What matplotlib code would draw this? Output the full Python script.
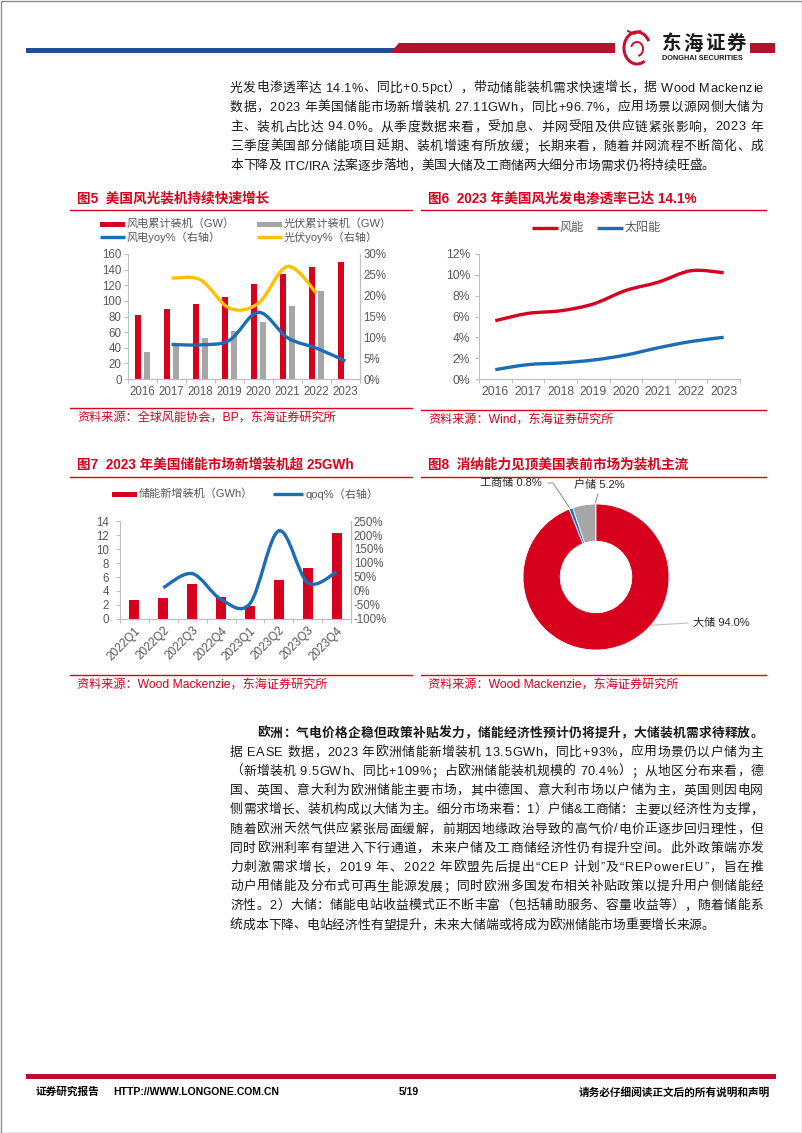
import numpy as np
import matplotlib
matplotlib.use("Agg")
import matplotlib.pyplot as plt
from matplotlib.path import Path
from matplotlib.patches import PathPatch, Rectangle, Polygon, Arc
from matplotlib.font_manager import FontProperties

FAMILY = ['Liberation Sans', 'Noto Sans CJK SC']
plt.rcParams['font.family'] = FAMILY
plt.rcParams['axes.unicode_minus'] = False

W, H = 802, 1133

# ---- data -------------------------------------------------------------
years = ['2016', '2017', '2018', '2019', '2020', '2021', '2022', '2023']
wind_cum = [82, 89, 96, 105, 122, 134, 144, 150]            # GW
solar_cum = [34, 43, 52, 61, 73, 93, 113, np.nan]           # GW
wind_yoy = [np.nan, 8.3, 8.2, 9.3, 16.0, 9.9, 7.4, 4.3]     # %
solar_yoy = [np.nan, 24.2, 23.8, 17.0, 18.2, 27.0, 20.6, np.nan]

wind_share = [5.6, 6.3, 6.55, 7.2, 8.5, 9.3, 10.4, 10.2]    # %
solar_share = [0.9, 1.38, 1.54, 1.82, 2.3, 3.0, 3.6, 4.0]

quarters = ['2022Q1', '2022Q2', '2022Q3', '2022Q4',
            '2023Q1', '2023Q2', '2023Q3', '2023Q4']
storage_add = [2.74, 3.07, 4.97, 3.12, 1.8, 5.6, 7.3, 12.3]  # GWh
storage_qoq = [np.nan, 12, 62, -30, -45, 215, 30, 68]        # %

seg_names = ['户储', '工商储', '大储']
seg_share = [5.2, 0.8, 94.0]

top_lines = [
    '光发电渗透率达 14.1%、同比+0.5pct），带动储能装机需求快速增长，据 Wood Mackenzie',
    '数据，2023 年美国储能市场新增装机 27.11GWh，同比+96.7%，应用场景以源网侧大储为',
    '主、装机占比达 94.0%。从季度数据来看，受加息、并网受阻及供应链紧张影响，2023 年',
    '三季度美国部分储能项目延期、装机增速有所放缓；长期来看，随着并网流程不断简化、成',
    '本下降及 ITC/IRA 法案逐步落地，美国大储及工商储两大细分市场需求仍将持续旺盛。',
]
eu_head = '欧洲：气电价格企稳但政策补贴发力，储能经济性预计仍将提升，大储装机需求待释放。'
eu_lines = [
    '据 EASE 数据，2023 年欧洲储能新增装机 13.5GWh，同比+93%，应用场景仍以户储为主',
    '（新增装机 9.5GWh、同比+109%；占欧洲储能装机规模的 70.4%）；从地区分布来看，德',
    '国、英国、意大利为欧洲储能主要市场，其中德国、意大利市场以户储为主，英国则因电网',
    '侧需求增长、装机构成以大储为主。细分市场来看：1）户储&工商储：主要以经济性为支撑，',
    '随着欧洲天然气供应紧张局面缓解，前期因地缘政治导致的高气价/电价正逐步回归理性，但',
    '同时欧洲利率有望进入下行通道，未来户储及工商储经济性仍有提升空间。此外政策端亦发',
    '力刺激需求增长，2019 年、2022 年欧盟先后提出“CEP 计划”及“REPowerEU”，旨在推',
    '动户用储能及分布式可再生能源发展；同时欧洲多国发布相关补贴政策以提升用户侧储能经',
    '济性。2）大储：储能电站收益模式正不断丰富（包括辅助服务、容量收益等），随着储能系',
    '统成本下降、电站经济性有望提升，未来大储端或将成为欧洲储能市场重要增长来源。',
]

RED = '#D7001D'
HEAD_RED = '#B3122C'
NAVY = '#1F4E96'
BLUE = '#1C6DB6'
YELLOW = '#FFC000'
GRAY = '#A6A6A6'
SPINE = '#BFBFBF'
TICK = '#595959'

fig = plt.figure(figsize=(W / 100, H / 100), dpi=100)
bg = fig.add_axes([0, 0, 1, 1])
bg.set_xlim(0, W)
bg.set_ylim(H, 0)
bg.axis('off')
renderer = fig.canvas.get_renderer()


def px_axes(x0, y0, x1, y1):
    ax = fig.add_axes([x0 / W, 1 - y1 / H, (x1 - x0) / W, (y1 - y0) / H])
    ax.set_facecolor('none')
    return ax


def smooth(ax, xs, ys, color, lw=2.4):
    # excel-like smoothed line through the data points
    p = np.array([(a, b) for a, b in zip(xs, ys) if not np.isnan(b)], float)
    verts, codes = [p[0]], [Path.MOVETO]
    n = len(p)
    for i in range(n - 1):
        p0 = p[i - 1] if i > 0 else p[i]
        p3 = p[i + 2] if i + 2 < n else p[i + 1]
        verts += [p[i] + (p[i + 1] - p0) / 6, p[i + 1] - (p3 - p[i]) / 6, p[i + 1]]
        codes += [Path.CURVE4] * 3
    ax.add_patch(PathPatch(Path(verts, codes), fill=False, edgecolor=color,
                           lw=lw, capstyle='butt', zorder=5))


def style(ax, left=True, right=False, size=8):
    for s in ['top', 'right', 'left', 'bottom']:
        ax.spines[s].set_color(SPINE)
        ax.spines[s].set_linewidth(0.8)
    ax.spines['top'].set_visible(False)
    ax.spines['right'].set_visible(right)
    ax.spines['left'].set_visible(left)
    ax.tick_params(colors=SPINE, labelcolor=TICK, labelsize=size, width=0.8)


def cat_ticks(ax, labels, **kw):
    n = len(labels)
    ax.set_xlim(-0.5, n - 0.5)
    ax.set_xticks(np.arange(n))
    ax.set_xticklabels(labels, **kw)
    ax.set_xticks(np.arange(-0.5, n, 1), minor=True)
    ax.tick_params(axis='x', which='major', length=0)
    ax.tick_params(axis='x', which='minor', length=3, color=SPINE, width=0.8)


def fig_title(x, x_end, y, text):
    bg.text(x + 7, y, text, color=RED, fontsize=9.8, fontweight='bold', va='center')
    bg.plot([x, x_end], [y + 12, y + 12], color=RED, lw=1)


def source(x, x_end, y, text):
    bg.plot([x, x_end], [y - 10, y - 10], color=RED, lw=1)
    bg.text(x + 7, y, text, color=RED, fontsize=8.7, va='center')


def leg_rect(x, y, color, label):
    bg.add_patch(Rectangle((x, y - 2.5), 25, 5, color=color, lw=0))
    bg.text(x + 27, y, label, color=TICK, fontsize=8, va='center')


def leg_line(x, y, color, label, length=25, size=8):
    bg.plot([x, x + length], [y, y], color=color, lw=2.4, solid_capstyle='butt')
    bg.text(x + length + 2, y, label, color=TICK, fontsize=size, va='center')


# ---- justified body text ---------------------------------------------
BODY = FontProperties(family=FAMILY, size=9.2)
BOLD = FontProperties(family=FAMILY, size=9.2, weight='bold')


def tw(s, fp):
    return renderer.get_text_width_height_descent(s, fp, ismath=False)[0]


def draw_line(s, x0, x1, y, fp, justify=True):
    ref = tw('x', fp)
    offs = [tw(s[:i] + 'x', fp) - ref for i in range(len(s))]
    natural = tw(s + 'x', fp) - ref
    extra = (x1 - x0 - natural) / (len(s) - 1) if justify else 0
    for i, ch in enumerate(s):
        if ch != ' ':
            bg.text(x0 + offs[i] + i * extra, y + 4.5, ch, fontproperties=fp,
                    color='#1A1A1A', va='baseline', ha='left')


for i, line in enumerate(top_lines):
    draw_line(line, 230, 763, 87 + i * 19.5, BODY, justify=i < len(top_lines) - 1)

draw_line(eu_head, 257, 763, 732, BOLD)
for i, line in enumerate(eu_lines):
    draw_line(line, 230, 763, 751.2 + i * 19.2, BODY, justify=i < len(eu_lines) - 1)

# ---- header / footer / frame -----------------------------------------
bg.add_patch(Rectangle((26, 47.5), 370, 5, color=NAVY, lw=0))
bg.add_patch(Polygon([(390, 53), (399, 43), (615, 43), (615, 53)], closed=True,
                     color=HEAD_RED, lw=0))
bg.add_patch(Rectangle((750, 43), 25, 10, color=HEAD_RED, lw=0))
bg.add_patch(Arc((637, 48), 26, 32, theta1=60, theta2=330, color='#C8102E', lw=2.2))
bg.add_patch(Arc((637, 49), 12, 14, theta1=200, theta2=80, color='#C8102E', lw=1.4))
bg.plot([628, 634, 640], [31, 34, 31], color='#C8102E', lw=1.4)
for i, ch in enumerate('东海证券'):
    bg.text(662 + i * 21.5, 44, ch, fontsize=14, fontweight='bold', color='#1A1A1A',
            va='center', ha='left')
bg.text(662, 58, 'DONGHAI SECURITIES', fontsize=5.3, fontweight='bold',
        color='#1A1A1A', va='center', ha='left')

bg.add_patch(Rectangle((26, 1074), 750, 4.5, color=HEAD_RED, lw=0))
bg.text(36, 1092, '证券研究报告', fontsize=7.7, fontweight='bold', va='center')
bg.text(113, 1092, 'HTTP://WWW.LONGONE.COM.CN', fontsize=7.5, fontweight='bold', va='center')
bg.text(399, 1092, '5/19', fontsize=7.5, fontweight='bold', va='center')
bg.text(770, 1092, '请务必仔细阅读正文后的所有说明和声明', fontsize=7.7, fontweight='bold',
        va='center', ha='right')
bg.add_patch(Rectangle((0.5, 0.5), W - 1, H - 1, fill=False, edgecolor='#8C8C8C', lw=1))

# ---- 图5 --------------------------------------------------------------
fig_title(70, 412, 198, '图5  美国风光装机持续快速增长')
leg_rect(100, 224, RED, '风电累计装机（GW）')
leg_rect(257, 224, GRAY, '光伏累计装机（GW）')
leg_line(100, 237, BLUE, '风电yoy%（右轴）')
leg_line(257, 237, YELLOW, '光伏yoy%（右轴）')

ax5 = px_axes(128, 254, 360, 379)
x = np.arange(len(years))
ax5.bar(x - 0.145, wind_cum, width=0.22, color=RED)
ax5.bar(x + 0.145, solar_cum, width=0.22, color=GRAY)
ax5.set_ylim(0, 160)
ax5.set_yticks(range(0, 161, 20))
style(ax5, right=True, size=8.3)
cat_ticks(ax5, years)
ax5.tick_params(axis='y', length=3, pad=1.5)
ax5.tick_params(axis='x', pad=5)
ax5r = ax5.twinx()
ax5r.set_facecolor('none')
style(ax5r, left=False, right=True, size=8.3)
ax5r.set_ylim(0, 30)
ax5r.set_yticks(range(0, 31, 5))
ax5r.set_yticklabels([f'{v}%' for v in range(0, 31, 5)])
ax5r.tick_params(axis='y', length=0, pad=2.5)
smooth(ax5r, x, wind_yoy, BLUE)
smooth(ax5r, x, solar_yoy, YELLOW)
source(70, 412, 418, '资料来源：全球风能协会，BP，东海证券研究所')

# ---- 图6 --------------------------------------------------------------
fig_title(421, 766, 198, '图6  2023 年美国风光发电渗透率已达 14.1%')
leg_line(532, 228, RED, '风能', length=26, size=8.7)
leg_line(597, 228, BLUE, '太阳能', length=26, size=8.7)

ax6 = px_axes(479, 254, 740, 379)
ax6.set_ylim(0, 12)
ax6.set_yticks(range(0, 13, 2))
ax6.set_yticklabels([f'{v}%' for v in range(0, 13, 2)])
style(ax6, size=8.7)
cat_ticks(ax6, years)
ax6.tick_params(axis='y', length=3, pad=3.5)
ax6.tick_params(axis='x', pad=5)
x6 = np.arange(len(years))
smooth(ax6, x6, wind_share, RED)
smooth(ax6, x6, solar_share, BLUE)
source(421, 766, 420, '资料来源：Wind，东海证券研究所')

# ---- 图7 --------------------------------------------------------------
fig_title(70, 412, 465, '图7  2023 年美国储能市场新增装机超 25GWh')
leg_rect(112, 494, RED, '储能新增装机（GWh）')
leg_line(273, 494, BLUE, 'qoq%（右轴）', length=30)

ax7 = px_axes(120, 521, 351, 619)
xq = np.arange(len(quarters))
ax7.bar(xq, storage_add, width=0.35, color=RED)
ax7.set_ylim(0, 14)
ax7.set_yticks(range(0, 15, 2))
style(ax7, right=True, size=8.3)
cat_ticks(ax7, quarters, rotation=45, ha='right', va='top',
          rotation_mode='anchor', fontsize=8.5)
ax7.tick_params(axis='y', length=3, pad=5)
ax7.tick_params(axis='x', pad=4)
ax7r = ax7.twinx()
ax7r.set_facecolor('none')
style(ax7r, left=False, right=True, size=8.3)
ax7r.set_ylim(-100, 250)
ax7r.set_yticks(range(-100, 251, 50))
ax7r.set_yticklabels([f'{v}%' for v in range(-100, 251, 50)])
ax7r.tick_params(axis='y', length=0, pad=2)
smooth(ax7r, xq, storage_qoq, BLUE)
source(70, 412, 685, '资料来源：Wood Mackenzie，东海证券研究所')

# ---- 图8 --------------------------------------------------------------
fig_title(421, 766, 465, '图8  消纳能力见顶美国表前市场为装机主流')
ax8 = px_axes(523, 504, 669, 650)
ax8.pie(seg_share, colors=[GRAY, BLUE, RED], startangle=90, counterclock=True,
        radius=1, wedgeprops=dict(width=0.51, edgecolor='white', linewidth=0.6))
ax8.set_xlim(-1, 1)
ax8.set_ylim(-1, 1)
ax8.set_aspect('equal')
ax8.axis('off')
LBL = '#262626'
bg.text(480, 483, f'{seg_names[1]} {seg_share[1]:.1f}%', fontsize=8, color=LBL, va='center')
bg.plot([548, 553, 571], [483, 483, 510], color='#8C8C8C', lw=0.7)
bg.text(574, 485, f'{seg_names[0]} {seg_share[0]:.1f}%', fontsize=8, color=LBL, va='center')
bg.plot([595, 598], [504, 494], color='#8C8C8C', lw=0.7)
bg.text(693, 623, f'{seg_names[2]} {seg_share[2]:.1f}%', fontsize=8, color=LBL, va='center')
bg.plot([607, 688], [628, 623], color='#BFBFBF', lw=0.8)
source(421, 766, 685, '资料来源：Wood Mackenzie，东海证券研究所')

fig.savefig('out.png', dpi=100)
